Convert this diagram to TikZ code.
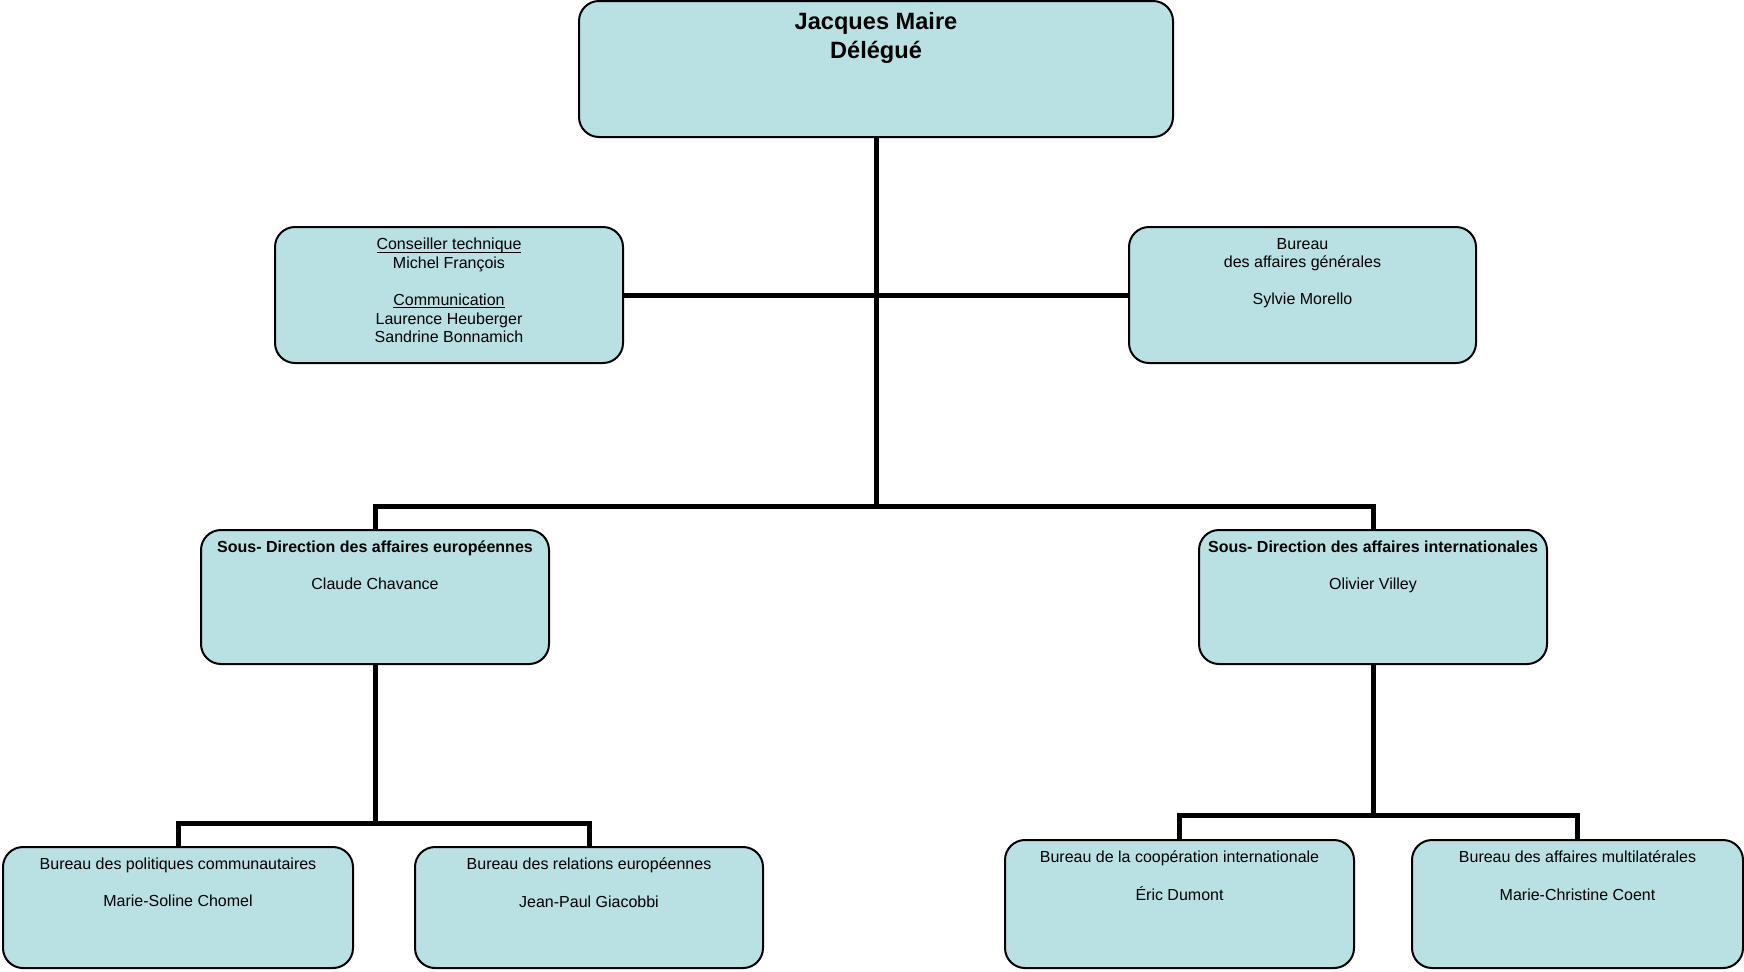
\documentclass[tikz,border=0pt]{standalone}
\usepackage{fontspec}
\setmainfont{Liberation Sans}
\usetikzlibrary{positioning}
\definecolor{boxfill}{RGB}{185,224,227}
\newsavebox{\soulbox}
\newcommand{\souligne}[1]{\sbox{\soulbox}{#1}%
  \rlap{\rule[-1.4pt]{\wd\soulbox}{0.45pt}}\usebox{\soulbox}}
\begin{document}
\begin{tikzpicture}[
      x=0.5pt, y=-0.5pt,
      every node/.style={font=\fontsize{8}{9.3}\selectfont},
      box/.style={draw, line width=1pt, fill=boxfill, rounded corners=10pt,
                  inner sep=0pt},
      txt/.style={align=center, inner sep=0pt},
      head/.style={txt, font=\bfseries\fontsize{8}{9.3}\selectfont},
      link/.style={line width=2.5pt}
    ]
    \useasboundingbox (0,0) rectangle (1744,971);

    % Délégué
    \node[box, minimum width=297pt, minimum height=68pt] (del) at (876,69) {};
    \node[txt, font=\bfseries\fontsize{11.8}{14.5}\selectfont, below=6.1pt of del.north]
      (deltxt) {Jacques Maire\\Délégué};

    % Conseiller technique / communication
    \node[box, minimum width=174pt, minimum height=68pt] (cons) at (449,295) {};
    \node[txt, below=5.8pt of cons.north] (constxt)
      {\souligne{Conseiller technique}\\Michel François\\[9.3pt]
       \souligne{Communication}\\Laurence Heuberger\\Sandrine Bonnamich};

    % Bureau des affaires générales
    \node[box, minimum width=173.5pt, minimum height=68pt] (bag) at (1302.5,295) {};
    \node[txt, below=5.8pt of bag.north] (bagtxt)
      {Bureau\\des affaires générales\\[9.3pt]Sylvie Morello};

    % Sous-directions
    \node[box, minimum width=174pt, minimum height=67pt] (sde) at (375,597) {};
    \node[head, below=5.6pt of sde.north] (sdetxt)
      {Sous- Direction des affaires européennes\\[9.3pt]\mdseries Claude Chavance};
    \node[box, minimum width=174pt, minimum height=67pt] (sdi) at (1373,597) {};
    \node[head, below=5.6pt of sdi.north] (sditxt)
      {Sous- Direction des affaires internationales\\[9.3pt]\mdseries Olivier Villey};

    % Bureaux européens
    \node[box, minimum width=175pt, minimum height=60.5pt] (bpc) at (178,907.5) {};
    \node[txt, below=5.8pt of bpc.north] (bpctxt)
      {Bureau des politiques communautaires\\[9.3pt]Marie-Soline Chomel};
    \node[box, minimum width=174pt, minimum height=60.5pt] (bre) at (589,907.5) {};
    \node[txt, below=5.8pt of bre.north] (bretxt)
      {Bureau des relations européennes\\[9.3pt]Jean-Paul Giacobbi};

    % Bureaux internationaux
    \node[box, minimum width=174.5pt, minimum height=64pt] (bci) at (1179.5,904) {};
    \node[txt, below=5.8pt of bci.north] (bcitxt)
      {Bureau de la coopération internationale\\[9.3pt]Éric Dumont};
    \node[box, minimum width=165.5pt, minimum height=64pt] (bam) at (1577.5,904) {};
    \node[txt, below=5.8pt of bam.north] (bamtxt)
      {Bureau des affaires multilatérales\\[9.3pt]Marie-Christine Coent};

    % Points de jonction
    \coordinate (hub)  at (876,506);
    \coordinate (hube) at (375,823);
    \coordinate (hubi) at (1373,815);

    % Liaisons
    \draw[link] (del.south) -- (hub);
    \draw[link] (cons.east) -- (bag.west);
    \draw[link] (sde.north) |- (hub) -| (sdi.north);
    \draw[link] (sde.south) -- (hube);
    \draw[link] (bpc.north) |- (hube) -| (bre.north);
    \draw[link] (sdi.south) -- (hubi);
    \draw[link] (bci.north) |- (hubi) -| (bam.north);
  \end{tikzpicture}
\end{document}
